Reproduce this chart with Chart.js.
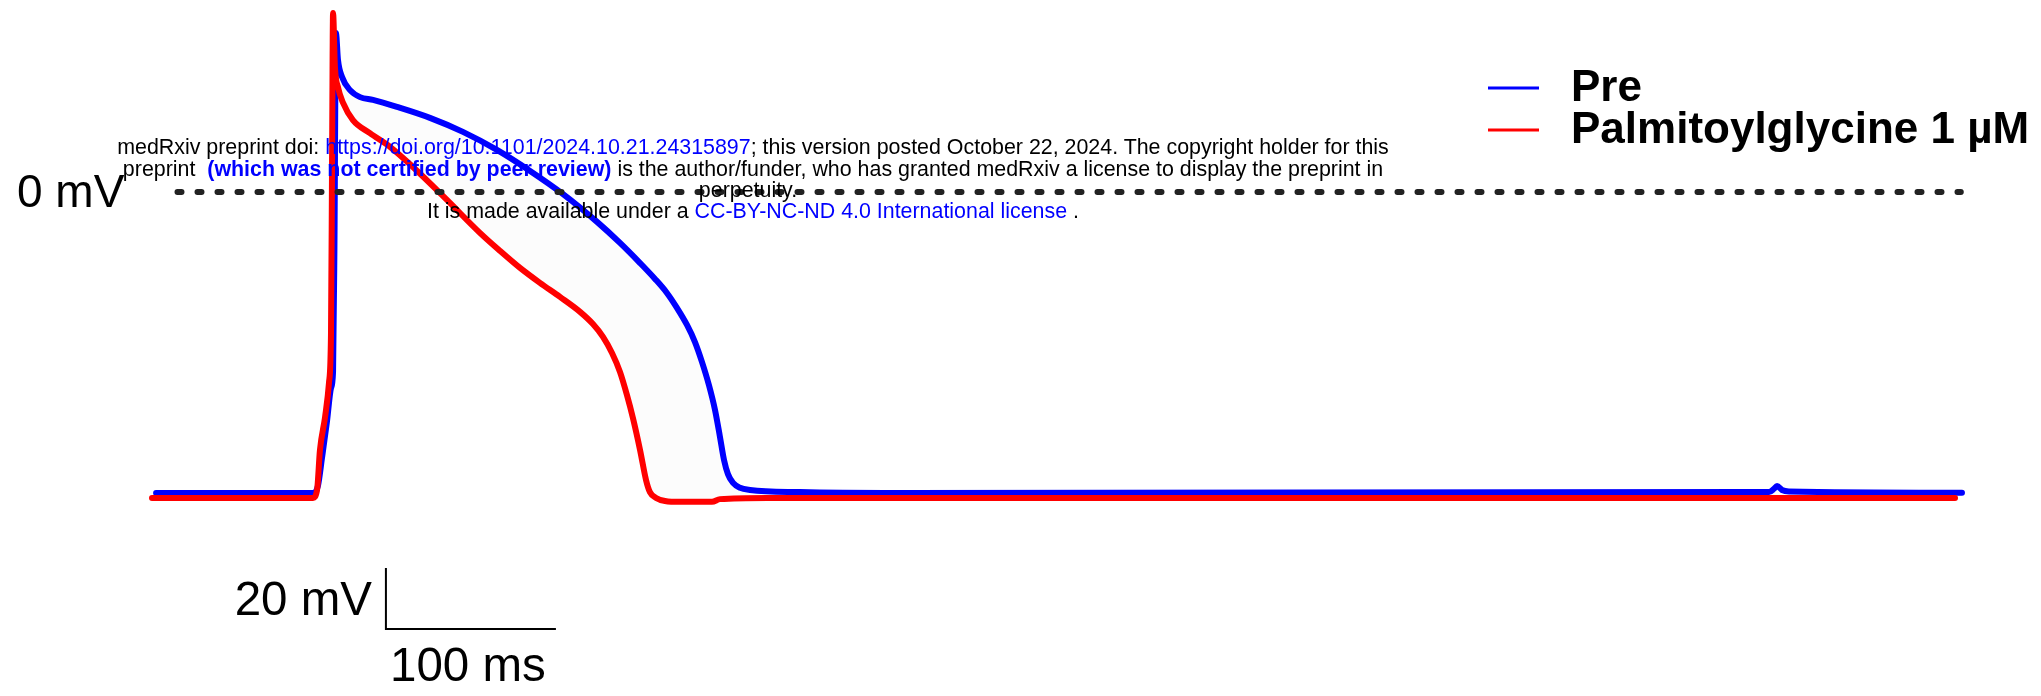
<!DOCTYPE html>
<html>
<head>
<meta charset="utf-8">
<title>Action potential</title>
<script src="https://cdn.jsdelivr.net/npm/chart.js@4.4.1/dist/chart.umd.min.js"></script>
<style>
  html, body { margin: 0; padding: 0; background: #fff; }
  #wrap { position: relative; width: 2041px; height: 696px; overflow: hidden; }
  #trace { position: absolute; left: 0; top: 0; }
  .stamp {
    position: absolute;
    left: 753px;
    transform: translateX(-50%);
    white-space: nowrap;
    font-family: "Liberation Sans", Arial, sans-serif;
    font-size: 21.4px;
    line-height: 21.4px;
    color: #000;
  }
  .link { color: #0000ff; }
  .bold { font-weight: bold; }
</style>
</head>
<body>
<div id="wrap">
  <canvas id="trace" width="2041" height="696"></canvas>
  <div class="stamp" style="top:137px">medRxiv preprint doi: <span class="link">https://doi.org/10.1101/2024.10.21.24315897</span>; this version posted October 22, 2024. The copyright holder for this</div>
  <div class="stamp" style="top:159px">preprint &nbsp;<span class="link bold">(which was not certified by peer review)</span> is the author/funder, who has granted medRxiv a license to display the preprint in</div>
  <div class="stamp" style="top:180px;left:748px">perpetuity.</div>
  <div class="stamp" style="top:201px">It is made available under a <span class="link">CC-BY-NC-ND 4.0 International license</span> .</div>
</div>
<script>
// membrane potential traces, time in ms, Vm in mV
const seriesLabels = ["Pre", "Palmitoylglycine 1 µM"];
const seriesColors = ["#0000ff", "#ff0000"];

const preTime = [2.4, 94.7, 97.6, 100.0, 102.9, 105.3, 106.5, 107.3, 108.2, 109.4, 111.8, 116.5,
  122.4, 130.0, 144.1, 163.5, 182.9, 202.9, 222.4, 241.8, 261.8, 275.3, 287.1, 295.9, 302.9,
  308.8, 314.7, 319.4, 323.5, 327.6, 331.2, 334.1, 336.5, 338.8, 341.8, 345.9, 351.8, 381.2,
  440.0, 940.0, 951.2, 954.1, 955.9, 958.8, 962.9, 1064.7];
const preVm = [-98.7, -98.7, -96.4, -87.2, -75.4, -64.3, -59.0, -19.0, 52.1, 43.3, 37.7, 33.4,
  31.1, 30.2, 27.9, 24.3, 19.7, 13.8, 6.9, -0.7, -9.8, -16.7, -23.3, -28.5, -33.1,
  -38.0, -43.6, -49.2, -55.7, -63.3, -71.5, -80.3, -87.9, -92.5, -95.4, -97.0, -97.7, -98.4,
  -98.7, -98.4, -98.4, -97.3, -96.4, -97.7, -98.2, -98.6];

const palTime = [0, 94.7, 97.1, 98.8, 101.8, 104.1, 105.3, 105.9, 106.5, 107.6, 109.4, 112.4,
  118.2, 128.2, 140.0, 153.5, 173.5, 192.9, 204.7, 216.5, 228.2, 240.0, 251.8, 259.4, 265.3,
  270.6, 275.3, 279.4, 282.9, 287.1, 290.6, 292.9, 296.5, 301.8, 310.6, 322.4, 329.4, 334.1,
  361.8, 1060.6];
const palVm = [-100.3, -100.3, -97.7, -84.6, -73.8, -62.6, -46.2, 8.2, 58.7, 41.0, 34.4, 29.2,
  23.6, 19.3, 14.8, 8.2, -2.6, -13.4, -19.3, -24.9, -29.8, -34.4, -39.3, -43.3, -47.5,
  -52.8, -59.0, -66.6, -74.1, -84.6, -94.4, -98.4, -100.3, -101.3, -101.6, -101.6, -101.6, -100.7,
  -100.3, -100.3];

// 0 mV reference span (ms) and scale bar (origin ms / mV, sizes)
const zeroSpan = [15, 1064];
const barOrigin = [137.6, -143.3];
const barSize = [100, 20];

const toPoints = (t, v) => t.map((x, i) => ({ x: x, y: v[i] }));

const overlay = {
  id: "overlay",
  afterDatasetsDraw(chart) {
    const ctx = chart.ctx;
    const xs = chart.scales.x;
    const ys = chart.scales.y;
    const y0 = ys.getPixelForValue(0);
    ctx.save();

    // dotted 0 mV line
    ctx.strokeStyle = "#222222";
    ctx.lineWidth = 6;
    ctx.lineCap = "round";
    ctx.setLineDash([4, 16]);
    ctx.beginPath();
    ctx.moveTo(xs.getPixelForValue(zeroSpan[0]), y0);
    ctx.lineTo(xs.getPixelForValue(zeroSpan[1]), y0);
    ctx.stroke();
    ctx.setLineDash([]);

    // scale bar
    const bx = xs.getPixelForValue(barOrigin[0]);
    const by = ys.getPixelForValue(barOrigin[1]);
    const bx2 = xs.getPixelForValue(barOrigin[0] + barSize[0]);
    const by2 = ys.getPixelForValue(barOrigin[1] + barSize[1]);
    ctx.strokeStyle = "#000";
    ctx.lineWidth = 2;
    ctx.lineCap = "butt";
    ctx.beginPath();
    ctx.moveTo(bx, by2);
    ctx.lineTo(bx, by);
    ctx.lineTo(bx2, by);
    ctx.stroke();

    ctx.fillStyle = "#000";
    ctx.font = '46px "Liberation Sans", Arial, sans-serif';
    ctx.textBaseline = "alphabetic";
    ctx.textAlign = "left";
    ctx.fillText("0 mV", 17, y0 + 15);
    ctx.font = '47.5px "Liberation Sans", Arial, sans-serif';
    ctx.textAlign = "right";
    ctx.fillText(barSize[1] + " mV", bx - 14, (by + by2) / 2 + 16);
    ctx.textAlign = "center";
    ctx.fillText(barSize[0] + " ms", (bx + bx2) / 2 - 3, by + 52);

    // legend
    ctx.font = 'bold 44px "Liberation Sans", Arial, sans-serif';
    ctx.textAlign = "left";
    ctx.lineWidth = 3;
    chart.data.datasets.forEach((ds, i) => {
      const ly = 88 + i * 42;
      ctx.strokeStyle = ds.borderColor;
      ctx.beginPath();
      ctx.moveTo(1488, ly);
      ctx.lineTo(1539, ly);
      ctx.stroke();
      ctx.fillText(ds.label, 1571, ly + 13);
    });
    ctx.restore();
  }
};

new Chart(document.getElementById("trace"), {
  type: "line",
  data: {
    datasets: [
      {
        label: seriesLabels[0],
        data: toPoints(preTime, preVm),
        borderColor: seriesColors[0],
        borderWidth: 6,
        fill: 1,
        backgroundColor: "rgba(0,0,0,0.01)",
        order: 2,
      },
      {
        label: seriesLabels[1],
        data: toPoints(palTime, palVm),
        borderColor: seriesColors[1],
        borderWidth: 6,
        fill: false,
        order: 1,
      },
    ],
  },
  options: {
    responsive: false,
    animation: false,
    events: [],
    layout: { padding: 0 },
    elements: {
      point: { radius: 0 },
      line: {
        cubicInterpolationMode: "monotone",
        borderCapStyle: "round",
        borderJoinStyle: "round",
      },
    },
    scales: {
      x: { type: "linear", min: -89.41, max: 1111.18, display: false },
      y: { type: "linear", min: -165.25, max: 62.95, display: false },
    },
    plugins: {
      legend: { display: false },
      tooltip: { enabled: false },
    },
  },
  plugins: [overlay],
});
</script>
</body>
</html>
